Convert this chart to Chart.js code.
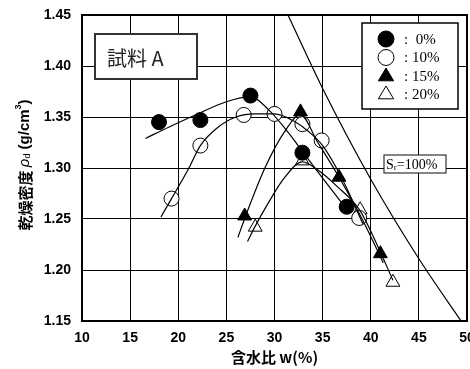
<!DOCTYPE html>
<html>
<head>
<meta charset="utf-8">
<script src="https://cdn.jsdelivr.net/npm/chart.js@4"></script>
<style>
  html, body { margin: 0; background: #fff; overflow: hidden; }
  #wrap { width: 470px; height: 369px; overflow: hidden; }
</style>
</head>
<body>
<div id="wrap"><canvas id="chart" width="476" height="369"></canvas></div>
<script>
// measured points (w %, dry density g/cm3)
const moisture0 = [18.0, 22.3, 27.5, 32.9, 37.5];
const density0 = [1.345, 1.347, 1.371, 1.315, 1.262];
const moisture10 = [19.3, 22.3, 26.8, 30.0, 32.9, 34.9, 38.8];
const density10 = [1.270, 1.322, 1.352, 1.353, 1.343, 1.327, 1.251];
const moisture15 = [26.9, 32.7, 36.7, 41.0];
const density15 = [1.253, 1.355, 1.291, 1.216];
const moisture20 = [28.0, 32.9, 38.9, 42.3];
const density20 = [1.242, 1.307, 1.259, 1.188];

// hand drawn fit curves
const fitW0 = [16.6, 19, 22, 25, 27.5, 29.5, 31.5, 33, 35, 37.8];
const fitD0 = [1.329, 1.340, 1.353, 1.365, 1.370, 1.356, 1.334, 1.315, 1.290, 1.256];
const fitW10 = [18.2, 19.3, 21, 22.3, 24, 26, 28, 30, 32, 33.5, 35, 37, 39.2];
const fitD10 = [1.252, 1.270, 1.298, 1.322, 1.339, 1.350, 1.353, 1.353, 1.346, 1.336, 1.322, 1.290, 1.245];
const fitW15 = [26.2, 27, 29, 31, 32.7, 34.5, 36.7, 39, 41.3];
const fitD15 = [1.232, 1.253, 1.300, 1.335, 1.352, 1.325, 1.291, 1.252, 1.207];
const fitW20 = [27.2, 28, 29.5, 31, 32.9, 34.5, 36.5, 38.9, 40.5, 42.3];
const fitD20 = [1.228, 1.243, 1.268, 1.290, 1.306, 1.298, 1.282, 1.258, 1.228, 1.190];

// zero air voids curve Sr=100%
const satW = [31.4, 35, 40, 45, 49.6];
const satD = [1.450, 1.378, 1.289, 1.211, 1.147];

const legendLabels = [':  0%', ': 10%', ': 15%', ': 20%'];
const xTitle = '含水比 w(%)';
const boxTitle = '試料 A';
const satLabel = '=100%';

const pts = (xs, ys) => xs.map((x, i) => ({ x: x, y: ys[i] }));

function curve(xs, ys) {
  return {
    data: pts(xs, ys), showLine: true, pointRadius: 0,
    borderColor: '#000', borderWidth: 1.2, cubicInterpolationMode: 'monotone'
  };
}
function marks(xs, ys, style, fill, r) {
  return {
    data: pts(xs, ys), showLine: false, pointStyle: style, pointRadius: r,
    pointBackgroundColor: fill, pointBorderColor: '#000', pointBorderWidth: 1
  };
}

function drawMarker(ctx, style, fill, x, y, r) {
  ctx.save();
  ctx.fillStyle = fill;
  ctx.strokeStyle = '#000';
  ctx.lineWidth = 1;
  ctx.beginPath();
  if (style === 'circle') {
    ctx.arc(x, y, r, 0, Math.PI * 2);
  } else {
    ctx.moveTo(x, y - r);
    ctx.lineTo(x + r * 0.95, y + r * 0.6);
    ctx.lineTo(x - r * 0.95, y + r * 0.6);
    ctx.closePath();
  }
  ctx.fill();
  ctx.stroke();
  ctx.restore();
}

const decor = {
  id: 'decor',
  afterDatasetsDraw(chart) {
    const ctx = chart.ctx;
    const a = chart.chartArea;
    ctx.save();
    // title box
    ctx.fillStyle = '#fff';
    ctx.strokeStyle = '#333';
    ctx.lineWidth = 2;
    ctx.fillRect(95, 34, 102, 45);
    ctx.strokeRect(95, 34, 102, 45);
    ctx.fillStyle = '#222';
    ctx.font = '20px "Noto Sans CJK JP"';
    ctx.textAlign = 'left';
    ctx.textBaseline = 'middle';
    ctx.fillText(boxTitle, 107, 58);

    // legend box
    ctx.fillStyle = '#fff';
    ctx.strokeStyle = '#000';
    ctx.lineWidth = 1.5;
    ctx.fillRect(362, 23, 96, 86);
    ctx.strokeRect(362, 23, 96, 86);
    const styles = [['circle', '#000', 8], ['circle', '#fff', 8], ['triangle', '#000', 8], ['triangle', '#fff', 8]];
    const rowsY = [39, 57.5, 76, 94];
    ctx.font = '15px "Liberation Serif"';
    legendLabels.forEach((t, i) => {
      drawMarker(ctx, styles[i][0], styles[i][1], 386, rowsY[i], styles[i][2]);
      ctx.fillStyle = '#000';
      ctx.textBaseline = 'middle';
      ctx.fillText(t, 404, rowsY[i] + 1);
    });

    // Sr label
    ctx.fillStyle = '#fff';
    ctx.strokeStyle = '#333';
    ctx.lineWidth = 1.2;
    ctx.fillRect(384, 155, 62, 18);
    ctx.strokeRect(384, 155, 62, 18);
    ctx.fillStyle = '#000';
    ctx.font = '14px "Liberation Serif"';
    ctx.textBaseline = 'alphabetic';
    ctx.fillText('S', 386, 169);
    let sx = 386 + ctx.measureText('S').width;
    ctx.font = '9px "Liberation Serif"';
    ctx.fillText('r', sx, 170);
    sx += ctx.measureText('r').width;
    ctx.font = '14px "Liberation Serif"';
    ctx.fillText(satLabel, sx, 169);

    // frame
    ctx.strokeStyle = '#000';
    ctx.lineWidth = 2;
    ctx.strokeRect(a.left, a.top, a.right - a.left, a.bottom - a.top);

    // y title with sub/superscripts
    ctx.translate(25, 165);
    ctx.rotate(-Math.PI / 2);
    const parts = [
      ['bold 15px "Noto Sans CJK JP"', '乾燥密度 ', 0],
      ['italic 15px "Liberation Sans"', 'ρ', 0],
      ['9px "Liberation Sans"', 'd', 3],
      ['bold 15px "Liberation Sans"', ' (g/cm', 0],
      ['bold 9px "Liberation Sans"', '3', -6],
      ['bold 15px "Liberation Sans"', ')', 0]
    ];
    let total = 0;
    parts.forEach(p => { ctx.font = p[0]; total += ctx.measureText(p[1]).width; });
    let px = -total / 2;
    ctx.fillStyle = '#000';
    ctx.textAlign = 'left';
    ctx.textBaseline = 'middle';
    parts.forEach(p => {
      ctx.font = p[0];
      ctx.fillText(p[1], px, p[2]);
      px += ctx.measureText(p[1]).width;
    });
    ctx.restore();
  }
};

new Chart(document.getElementById('chart').getContext('2d'), {
  type: 'scatter',
  data: {
    datasets: [
      curve(satW, satD),
      curve(fitW0, fitD0),
      curve(fitW10, fitD10),
      curve(fitW15, fitD15),
      curve(fitW20, fitD20),
      marks(moisture0, density0, 'circle', '#000', 7.5),
      marks(moisture10, density10, 'circle', '#fff', 7.5),
      marks(moisture15, density15, 'triangle', '#000', 8),
      marks(moisture20, density20, 'triangle', '#fff', 8)
    ]
  },
  options: {
    responsive: false,
    animation: false,
    layout: { padding: { top: 15, right: 3, left: 0, bottom: 0 } },
    plugins: { legend: { display: false }, tooltip: { enabled: false } },
    scales: {
      x: {
        type: 'linear', min: 10, max: 50,
        afterFit: s => { s.height = 48; s.paddingLeft = 0; s.paddingRight = 0; },
        grid: { color: '#000', lineWidth: 1, drawTicks: false },
        border: { color: '#000', width: 2 },
        ticks: {
          stepSize: 5, padding: 9, color: '#000',
          font: { family: 'Liberation Sans', size: 14, weight: 'bold' }
        },
        title: {
          display: true, text: xTitle, color: '#000', padding: { top: 0, bottom: 3 },
          font: { family: '"Noto Sans CJK JP"', size: 15, weight: 'bold' }
        }
      },
      y: {
        type: 'linear', min: 1.15, max: 1.45,
        afterFit: s => { s.width = 82; s.paddingTop = 0; s.paddingBottom = 0; },
        grid: { color: '#000', lineWidth: 1, drawTicks: false },
        border: { color: '#000', width: 2 },
        ticks: {
          stepSize: 0.05, padding: 11, color: '#000',
          font: { family: 'Liberation Sans', size: 14, weight: 'bold' },
          callback: v => v.toFixed(2)
        }
      }
    }
  },
  plugins: [decor]
});
</script>
</body>
</html>
